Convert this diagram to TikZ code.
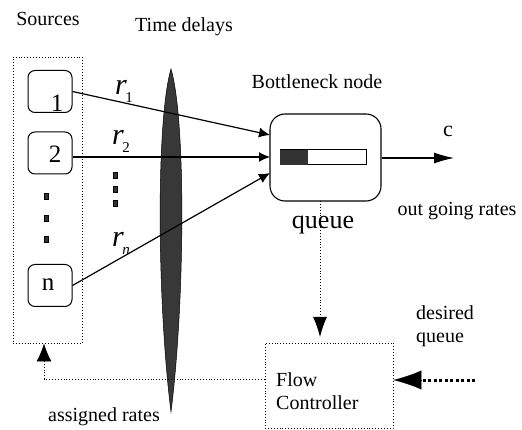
\documentclass[tikz,border=0pt]{standalone}
\usepackage{fontspec}
\setmainfont{Liberation Serif}
\usetikzlibrary{arrows.meta,calc,shapes.geometric}
\newcommand{\rsub}[1]{\textit{r}\kern-1.5pt\raisebox{-0.27em}{\fontsize{15}{15}\selectfont #1}}
\begin{document}
\begin{tikzpicture}[x=1pt,y=-1pt,
  lbl/.style={font=\fontsize{20}{23}\selectfont, inner sep=0pt},
  num/.style={font=\fontsize{25}{27}\selectfont, inner sep=0pt},
  rlbl/.style={font=\fontsize{30}{32}\selectfont, inner sep=0pt},
  srcbox/.style={draw, rounded corners=7pt, line width=1pt, minimum width=44pt, minimum height=42pt, inner sep=0pt},
  dotbox/.style={draw, dotted, line width=0.9pt},
  flowline/.style={line width=1.2pt, -{Latex[length=11pt,width=10pt]}},
  fbline/.style={dotted, line width=0.9pt},
  sq/.style={fill=black!80, draw=black, line width=0.4pt, minimum width=4.5pt, minimum height=5.5pt, inner sep=0pt},
]
\useasboundingbox (0,0) rectangle (522,430);

% labels
\node[lbl] (tsrc) at (48,19) {Sources};
\node[lbl] (tdel) at (184,27) {Time delays};
\node[lbl] (tbn) at (317,82) {Bottleneck node};
\node[lbl] (tout) at (457,211) {out going rates};
\node[lbl] (tass) at (104,417) {assigned rates};
\node[lbl, align=left] (tdes) at (445,326) {desired\\queue};
\node[font=\fontsize{22}{24}\selectfont, inner sep=0pt] (tc) at (448,131) {c};

% sources outer box
\node[dotbox, minimum width=69pt, minimum height=286pt, inner sep=0pt] (outer) at (47.5,200) {};

% source boxes
\node[srcbox] (s1) at (50,91.5) {};
\node[num] (n1) at (57,103) {1};
\node[srcbox] (s2) at (50,153) {};
\node[num] (n2) at (55,154) {2};
\node[srcbox] (sn) at (50,285.5) {};
\node[num] (nn) at (48,285) {n};

% dots
\node[sq] (d1) at (46,196) {};
\node[sq] (d2) at (46,218) {};
\node[sq] (d3) at (46,239) {};
\node[sq] (e1) at (115,175) {};
\node[sq] (e2) at (115,189) {};
\node[sq] (e3) at (115,203) {};

% time delay (lens shape)
\coordinate (dtop) at (171,69);
\coordinate (dbot) at (171,412);
\fill[black!78, draw=black, line width=0.5pt] (dtop) .. controls (156,120) and (157,300) .. (dbot)
   .. controls (185,300) and (186,120) .. (dtop) -- cycle;

% bottleneck node
\node[draw, rounded corners=15pt, line width=1.1pt, minimum width=111pt, minimum height=87pt, inner sep=0pt] (bn) at (325.5,157.5) {};
\node[draw, line width=1pt, minimum width=86pt, minimum height=15pt, inner sep=0pt] (qbar) at (323,157.5) {};
\node[fill=black!80, minimum width=28pt, minimum height=15pt, inner sep=0pt, anchor=west] (qfill) at (qbar.west) {};

\coordinate (in1) at (270,135);
\coordinate (in2) at (270,157);
\coordinate (in3) at (270,173);

% rate lines
\draw[flowline] (s1.east) -- (in1);
\draw[flowline] (s2.east |- in2) -- (in2);
\draw[flowline] (sn.east) -- (in3);

\node[rlbl] (r1) at (124,91) {\rsub{1}};
\node[rlbl] (r2) at (121,141) {\rsub{2}};
\node[rlbl] (rn) at (121,243) {\rsub{\textit{n}}};

% output
\coordinate (cout) at (454,158);
\draw[line width=1.1pt, -{Latex[length=20pt,width=11pt]}] (bn.east |- cout) -- (cout);

% queue label and flow controller
\node[font=\fontsize{26}{28}\selectfont, inner sep=0pt] (tq) at (323,225) {queue};
\node[dotbox, minimum width=128pt, minimum height=85pt, inner sep=0pt] (fc) at (329,385.5) {};
\node[lbl, align=left, anchor=west] (fctext) at (276,391) {Flow\\Controller};

\draw[fbline, -{Latex[length=20pt,width=14pt]}] (320,201) -- (320,337) coordinate (fcin);

% desired queue
\coordinate (dq) at (475,380);
\draw[line width=3pt, dash pattern=on 3pt off 2.5pt] (dq) -- (420,380);
\draw[-{Latex[length=28pt,width=19pt]}, line width=0.1pt] (421,380) -- (fc.east |- dq);

% assigned rates feedback
\coordinate (fbc) at (44,379);
\draw[fbline, -{Latex[length=18pt,width=15pt]}] (fc.west |- fbc) -- (fbc) -- (outer.south -| fbc);
\end{tikzpicture}
\end{document}
